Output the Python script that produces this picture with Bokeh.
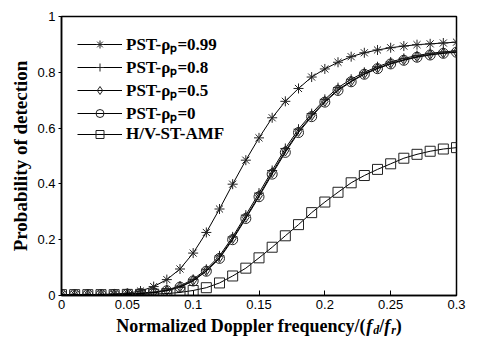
from bokeh.plotting import figure
from bokeh.models import Range1d, FixedTicker, Legend, LegendItem, Label
from bokeh.layouts import column
from bokeh.embed import file_html
from bokeh.resources import INLINE

x_vals = [0.00, 0.01, 0.02, 0.03, 0.04, 0.05, 0.06, 0.07, 0.08, 0.09, 0.10,
          0.11, 0.12, 0.13, 0.14, 0.15, 0.16, 0.17, 0.18, 0.19, 0.20,
          0.21, 0.22, 0.23, 0.24, 0.25, 0.26, 0.27, 0.28, 0.29, 0.30]

pst_099 = [0.003, 0.003, 0.003, 0.004, 0.005, 0.008, 0.016, 0.032, 0.057, 0.095, 0.152,
           0.226, 0.310, 0.399, 0.485, 0.565, 0.637, 0.696, 0.742, 0.783, 0.812,
           0.836, 0.856, 0.870, 0.880, 0.888, 0.894, 0.899, 0.902, 0.905, 0.908]
pst_08 = [0.003, 0.003, 0.003, 0.003, 0.004, 0.005, 0.008, 0.012, 0.020, 0.034, 0.058,
          0.094, 0.142, 0.210, 0.288, 0.367, 0.448, 0.527, 0.596, 0.652, 0.703,
          0.745, 0.775, 0.800, 0.820, 0.837, 0.850, 0.860, 0.868, 0.873, 0.877]
pst_05 = [0.003, 0.003, 0.003, 0.003, 0.004, 0.005, 0.008, 0.011, 0.018, 0.031, 0.054,
          0.089, 0.136, 0.204, 0.280, 0.358, 0.440, 0.518, 0.588, 0.645, 0.696,
          0.738, 0.768, 0.795, 0.815, 0.832, 0.845, 0.856, 0.864, 0.869, 0.873]
pst_0 = [0.003, 0.003, 0.003, 0.003, 0.004, 0.005, 0.007, 0.010, 0.017, 0.030, 0.052,
         0.087, 0.133, 0.200, 0.276, 0.354, 0.435, 0.513, 0.584, 0.641, 0.693,
         0.735, 0.766, 0.793, 0.813, 0.830, 0.843, 0.854, 0.862, 0.868, 0.872]
hv_amf = [0.003, 0.003, 0.003, 0.003, 0.003, 0.004, 0.004, 0.005, 0.007, 0.011, 0.018,
          0.028, 0.045, 0.070, 0.098, 0.135, 0.173, 0.214, 0.254, 0.297, 0.335,
          0.370, 0.404, 0.430, 0.452, 0.472, 0.492, 0.506, 0.517, 0.525, 0.530]

labels = ["PST-\u03c1\u209a=0.99", "PST-\u03c1\u209a=0.8", "PST-\u03c1\u209a=0.5",
          "PST-\u03c1\u209a=0", "H/V-ST-AMF"]
markers = ["asterisk", "cross", "diamond", "circle", "square"]
series = [pst_099, pst_08, pst_05, pst_0, hv_amf]

x_ticks = [0, 0.05, 0.1, 0.15, 0.2, 0.25, 0.3]
x_tick_labels = ["0", "0.05", "0.1", "0.15", "0.2", "0.25", "0.3"]
y_ticks = [0, 0.2, 0.4, 0.6, 0.8, 1.0]
y_tick_labels = ["0", "0.2", "0.4", "0.6", "0.8", "1"]

W = 479
H_MAIN = 315
H_LAB = 23
BL, BR = 61, 23
serif = "Liberation Serif"
sans = "Liberation Sans"

p = figure(width=W, height=H_MAIN, output_backend="svg", toolbar_location=None,
           x_range=Range1d(0, 0.3), y_range=Range1d(0, 1.0),
           min_border_left=BL, min_border_right=BR, min_border_top=16,
           min_border_bottom=20)
p.grid.visible = False
p.background_fill_color = "white"
p.outline_line_color = "black"
p.outline_line_width = 1.5

p.xaxis.ticker = FixedTicker(ticks=x_ticks)
p.xaxis.major_label_overrides = {t: l for t, l in zip(x_ticks, x_tick_labels)}
p.yaxis.ticker = FixedTicker(ticks=y_ticks)
p.yaxis.major_label_overrides = {t: l for t, l in zip(y_ticks, y_tick_labels)}
for ax in (p.xaxis[0], p.yaxis[0]):
    ax.axis_line_color = "black"
    ax.axis_line_width = 1.5
    ax.major_tick_line_color = "black"
    ax.minor_tick_line_color = None
    ax.major_label_text_font = sans
    ax.major_label_text_font_size = "13px"
    ax.major_label_text_color = "black"
p.xaxis.major_tick_in = 5
p.xaxis.major_tick_out = 0
p.yaxis.major_tick_in = 0
p.yaxis.major_tick_out = 3
p.xaxis.major_label_standoff = 4
p.yaxis.major_label_standoff = 3

p.yaxis.axis_label = "Probability of detection"
p.yaxis.axis_label_text_font = serif
p.yaxis.axis_label_text_font_style = "bold"
p.yaxis.axis_label_text_font_size = "19px"
p.yaxis.axis_label_text_color = "black"
p.yaxis.axis_label_standoff = 3

items = []
for lab, mk, ys in zip(labels, markers, series):
    ln = p.line(x_vals, ys, line_color="black", line_width=1)
    sc = p.scatter(x_vals, ys, marker=mk, size=10,
                   line_color="#222222", fill_color=None, line_width=1)
    items.append(LegendItem(label=lab, renderers=[ln, sc]))

legend = Legend(items=items, location="top_left")
legend.label_text_font = serif
legend.label_text_font_style = "bold"
legend.label_text_font_size = "17px"
legend.label_text_color = "black"
legend.glyph_width = 45
legend.glyph_height = 20
legend.label_height = 20
legend.spacing = -4
legend.label_standoff = 4
legend.padding = 3
legend.margin = 13
legend.background_fill_alpha = 0
legend.border_line_alpha = 0
p.add_layout(legend)

# x-axis title strip (with italic f and subscripts), drawn as real SVG text
q = figure(width=W, height=H_LAB, output_backend="svg", toolbar_location=None,
           x_range=Range1d(0, 1), y_range=Range1d(0, 1),
           x_axis_location=None, y_axis_location=None,
           min_border_left=BL, min_border_right=BR,
           min_border_top=0, min_border_bottom=0)
q.grid.visible = False
q.outline_line_color = None

fs = 18
sub = 12
base_text = "Normalized Doppler frequency/("
w_base = 13887 / 1000 * fs
w_f = 333 / 1000 * fs + 1
w_d = 500 / 1000 * sub
w_sl = 278 / 1000 * fs
w_r = 389 / 1000 * sub
w_cl = 333 / 1000 * fs
total = w_base + w_f + w_d + w_sl + w_f + w_r + w_cl
frame_w = W - BL - BR
x0 = frame_w / 2 - total / 2
y_base = 13
pieces = [
    (base_text, "bold", fs, 0, w_base),
    ("f", "bold italic", fs, 0, w_f),
    ("d", "bold italic", sub, -4, w_d),
    ("/", "bold", fs, 0, w_sl),
    ("f", "bold italic", fs, 0, w_f),
    ("r", "bold italic", sub, -4, w_r),
    (")", "bold", fs, 0, w_cl),
]
cx = x0
for txt, style, size, dy, w in pieces:
    q.add_layout(Label(x=cx, y=y_base + dy, x_units="screen", y_units="screen",
                       text=txt, text_font=serif, text_font_style=style,
                       text_font_size=f"{size}px", text_color="black",
                       text_baseline="alphabetic"))
    cx += w

layout = column(p, q, spacing=0)
open("out.html", "w").write(file_html(layout, INLINE))
